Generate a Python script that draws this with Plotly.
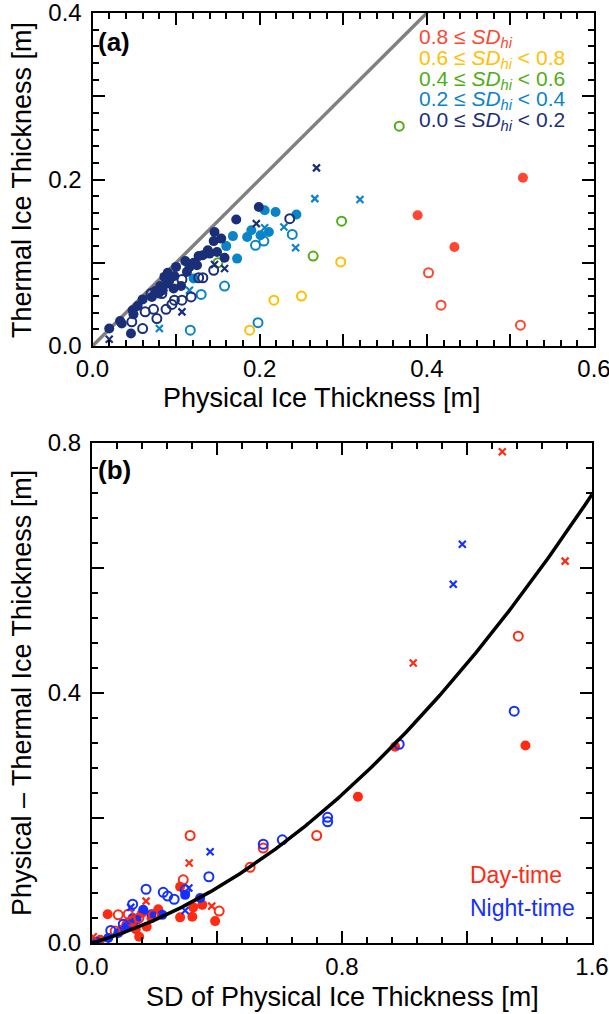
import numpy as np
import plotly.graph_objects as go

# ---------------- Panel (a) data: Physical vs Thermal ice thickness ----------------
a_red_filled_x = [0.515, 0.389, 0.433]
a_red_filled_y = [0.202, 0.157, 0.119]
a_red_open_x = [0.402, 0.417, 0.512]
a_red_open_y = [0.088, 0.049, 0.025]

a_yellow_open_x = [0.297, 0.250, 0.217, 0.188]
a_yellow_open_y = [0.101, 0.060, 0.055, 0.019]

a_green_open_x = [0.367, 0.298, 0.264, 0.150]
a_green_open_y = [0.264, 0.150, 0.108, 0.100]

a_blue_filled_x = [0.206, 0.219, 0.244, 0.190, 0.185, 0.201, 0.211, 0.168, 0.160, 0.173, 0.121]
a_blue_filled_y = [0.163, 0.161, 0.158, 0.139, 0.131, 0.133, 0.137, 0.132, 0.120, 0.105, 0.081]
a_blue_open_x = [0.195, 0.205, 0.239, 0.158, 0.130, 0.198, 0.117]
a_blue_open_y = [0.121, 0.126, 0.134, 0.072, 0.062, 0.028, 0.019]
a_blue_cross_x = [0.266, 0.320, 0.229, 0.243, 0.206, 0.116, 0.080]
a_blue_cross_y = [0.177, 0.176, 0.143, 0.118, 0.142, 0.067, 0.021]

a_navy_filled_x = [0.199, 0.172, 0.146, 0.145, 0.154, 0.149, 0.158, 0.132, 0.127, 0.111,
                   0.100, 0.086, 0.098, 0.089, 0.106, 0.097, 0.084, 0.079, 0.071, 0.060,
                   0.054, 0.048, 0.049, 0.033, 0.035, 0.020, 0.046, 0.116, 0.121, 0.092,
                   0.081, 0.138, 0.140, 0.125, 0.113, 0.090, 0.075]
a_navy_filled_y = [0.167, 0.152, 0.137, 0.126, 0.129, 0.113, 0.106, 0.109, 0.108, 0.102,
                   0.095, 0.083, 0.084, 0.075, 0.072, 0.069, 0.067, 0.063, 0.059, 0.056,
                   0.048, 0.043, 0.038, 0.030, 0.027, 0.021, 0.015, 0.095, 0.100, 0.079,
                   0.072, 0.115, 0.111, 0.097, 0.089, 0.088, 0.066]
a_navy_open_x = [0.236, 0.145, 0.127, 0.132, 0.118, 0.107, 0.098, 0.095, 0.088, 0.077,
                 0.063, 0.073, 0.060, 0.047, 0.083, 0.070, 0.107]
a_navy_open_y = [0.153, 0.091, 0.082, 0.082, 0.059, 0.055, 0.055, 0.050, 0.044, 0.033,
                 0.041, 0.044, 0.021, 0.029, 0.063, 0.063, 0.080]
a_navy_cross_x = [0.268, 0.196, 0.158, 0.146, 0.107, 0.020]
a_navy_cross_y = [0.214, 0.147, 0.093, 0.098, 0.041, 0.008]

a_legend_labels = ["0.8 ≤ <i>SD</i><sub><i>hi</i></sub>",
                   "0.6 ≤ <i>SD</i><sub><i>hi</i></sub> < 0.8",
                   "0.4 ≤ <i>SD</i><sub><i>hi</i></sub> < 0.6",
                   "0.2 ≤ <i>SD</i><sub><i>hi</i></sub> < 0.4",
                   "0.0 ≤ <i>SD</i><sub><i>hi</i></sub> < 0.2"]

# ---------------- Panel (b) data: SD vs (Physical - Thermal) ----------------
b_day_cross_x = [1.313, 1.514, 1.028, 0.311, 0.383, 0.173, 0.004]
b_day_cross_y = [0.786, 0.611, 0.448, 0.128, 0.059, 0.067, 0.010]
b_day_open_x = [1.364, 0.719, 0.548, 0.506, 0.314, 0.292, 0.407, 0.084, 0.116, 0.196,
                0.074, 0.125, 0.150]
b_day_open_y = [0.491, 0.172, 0.152, 0.121, 0.172, 0.101, 0.051, 0.045, 0.046, 0.045,
                0.019, 0.035, 0.040]
b_day_filled_x = [1.387, 0.970, 0.851, 0.282, 0.353, 0.321, 0.282, 0.394, 0.324, 0.050,
                  0.212, 0.151, 0.175, 0.127, 0.095, 0.026, 0.190, 0.160, 0.110, 0.140]
b_day_filled_y = [0.316, 0.314, 0.234, 0.090, 0.061, 0.042, 0.041, 0.035, 0.057, 0.046,
                  0.054, 0.010, 0.026, 0.032, 0.021, 0.005, 0.040, 0.048, 0.030, 0.022]

b_night_cross_x = [1.185, 1.156, 0.378, 0.298, 0.124, 0.310]
b_night_cross_y = [0.638, 0.574, 0.146, 0.052, 0.057, 0.088]
b_night_open_x = [1.351, 0.983, 0.754, 0.754, 0.609, 0.548, 0.374, 0.173, 0.228, 0.242,
                  0.263, 0.130, 0.298, 0.060, 0.100]
b_night_open_y = [0.371, 0.318, 0.201, 0.194, 0.165, 0.158, 0.106, 0.086, 0.081, 0.075,
                  0.070, 0.062, 0.085, 0.020, 0.030]
b_night_filled_x = [0.346, 0.298, 0.225, 0.164, 0.143, 0.111, 0.084, 0.052, 0.015, 0.190, 0.130]
b_night_filled_y = [0.072, 0.077, 0.045, 0.053, 0.037, 0.026, 0.016, 0.008, 0.002, 0.046, 0.040]

# fitted curve coefficients (y = c1*x + c2*x^2), read from the drawn fit
fit_c1 = 0.1446
fit_c2 = 0.190

# ---------------- styles ----------------
RED = "#FF4632"
YELLOW = "#FFC000"
GREEN = "#4FAE14"
LBLUE = "#0A84C8"
NAVY = "#1B2F78"
DAYRED = "#FF2A12"
NIGHTBLUE = "#1430FF"
FONT = "Liberation Sans, Arial, Helvetica, sans-serif"

W, H = 609, 1014


def px(x):
    return x / W


def py(y):
    return 1 - y / H


fig = go.Figure()


def add(x, y, kind, color, xa, ya):
    if kind == "filled":
        m = dict(symbol="circle", size=10, color=color, line=dict(width=0))
    elif kind == "open":
        m = dict(symbol="circle-open", size=9, color=color, line=dict(width=2, color=color))
    else:
        m = dict(symbol="x-thin-open", size=7, color=color, line=dict(width=2.2, color=color))
    fig.add_trace(go.Scatter(x=x, y=y, mode="markers", marker=m, xaxis=xa, yaxis=ya,
                             showlegend=False, hoverinfo="skip"))


# panel (a)
fig.add_trace(go.Scatter(x=[0, 0.4], y=[0, 0.4], mode="lines",
                         line=dict(color="#808080", width=3.5), xaxis="x", yaxis="y",
                         showlegend=False, hoverinfo="skip"))
add(a_red_filled_x, a_red_filled_y, "filled", RED, "x", "y")
add(a_red_open_x, a_red_open_y, "open", RED, "x", "y")
add(a_yellow_open_x, a_yellow_open_y, "open", YELLOW, "x", "y")
add(a_green_open_x, a_green_open_y, "open", GREEN, "x", "y")
add(a_blue_filled_x, a_blue_filled_y, "filled", LBLUE, "x", "y")
add(a_blue_open_x, a_blue_open_y, "open", LBLUE, "x", "y")
add(a_blue_cross_x, a_blue_cross_y, "cross", LBLUE, "x", "y")
add(a_navy_open_x, a_navy_open_y, "open", NAVY, "x", "y")
add(a_navy_filled_x, a_navy_filled_y, "filled", NAVY, "x", "y")
add(a_navy_cross_x, a_navy_cross_y, "cross", NAVY, "x", "y")

# panel (b)
add(b_day_filled_x, b_day_filled_y, "filled", DAYRED, "x2", "y2")
add(b_night_filled_x, b_night_filled_y, "filled", NIGHTBLUE, "x2", "y2")
add(b_day_open_x, b_day_open_y, "open", DAYRED, "x2", "y2")
add(b_night_open_x, b_night_open_y, "open", NIGHTBLUE, "x2", "y2")
add(b_day_cross_x, b_day_cross_y, "cross", DAYRED, "x2", "y2")
add(b_night_cross_x, b_night_cross_y, "cross", NIGHTBLUE, "x2", "y2")
xf = np.linspace(0, 1.6, 200)
fig.add_trace(go.Scatter(x=xf, y=fit_c1 * xf + fit_c2 * xf ** 2, mode="lines",
                         line=dict(color="black", width=3.5), xaxis="x2", yaxis="y2",
                         showlegend=False, hoverinfo="skip"))


def axis(rng, major, labels, minor_step, domain, anchor, standoff):
    return dict(
        range=rng, domain=domain, anchor=anchor,
        tickmode="array", tickvals=major, ticktext=labels,
        ticks="inside", ticklen=12, tickwidth=2, tickcolor="black",
        showline=True, linewidth=2, linecolor="black", mirror="allticks",
        showgrid=False, zeroline=False, automargin=False,
        ticklabeloverflow="allow",
        tickfont=dict(family=FONT, size=24, color="black"),
        minor=dict(tickmode="linear", tick0=0, dtick=minor_step, ticks="inside",
                   ticklen=6, tickwidth=1.5, tickcolor="black", showgrid=False),
        ticklabelstandoff=standoff,
    )


fig.update_layout(
    width=W, height=H,
    margin=dict(l=0, r=0, t=0, b=0, autoexpand=False),
    paper_bgcolor="white", plot_bgcolor="white",
    xaxis=axis([0, 0.6], [0, 0.1, 0.2, 0.3, 0.4, 0.5, 0.6],
               ["0.0", "", "0.2", "", "0.4", "", "0.6"], 0.02,
               [px(92.5), px(594)], "y", 0),
    yaxis=axis([0, 0.4], [0, 0.1, 0.2, 0.3, 0.4],
               ["0.0", "", "0.2", "", "0.4"], 0.02,
               [py(346), py(13)], "x", 4),
    xaxis2=axis([0, 1.6], [0, 0.4, 0.8, 1.2, 1.6],
                ["0.0", "", "0.8", "", "1.6"], 0.08,
                [px(92), px(592)], "y2", 1),
    yaxis2=axis([0, 0.8], [0, 0.2, 0.4, 0.6, 0.8],
                ["0.0", "", "0.4", "", "0.8"], 0.04,
                [py(943), py(443)], "x2", 4),
)

ann = []


def text(x, y, s, size=27, color="black", angle=0, xanchor="center", bold=False):
    ann.append(dict(x=px(x), y=py(y), xref="paper", yref="paper", text=(f"<b>{s}</b>" if bold else s),
                    showarrow=False, xanchor=xanchor, yanchor="middle", textangle=angle,
                    font=dict(family=FONT, size=size, color=color)))


text(322, 398, "Physical Ice Thickness [m]")
text(22, 180, "Thermal Ice Thickness [m]", angle=-90)
text(342, 997, "SD of Physical Ice Thickness [m]")
text(22, 693, "Physical – Thermal Ice Thickness [m]", angle=-90)
text(96, 42, "(a)", size=26, xanchor="left", bold=True)
text(96, 470, "(b)", size=26, xanchor="left", bold=True)

leg_colors = [RED, YELLOW, GREEN, LBLUE, NAVY]
for i, (lab, c) in enumerate(zip(a_legend_labels, leg_colors)):
    text(417, 38 + 20.8 * i, lab, size=21, color=c, xanchor="left")

text(468, 875, "Day-time", size=23, color=DAYRED, xanchor="left")
text(468, 908, "Night-time", size=23, color=NIGHTBLUE, xanchor="left")

fig.update_layout(annotations=ann)
fig.write_html("out.html")
